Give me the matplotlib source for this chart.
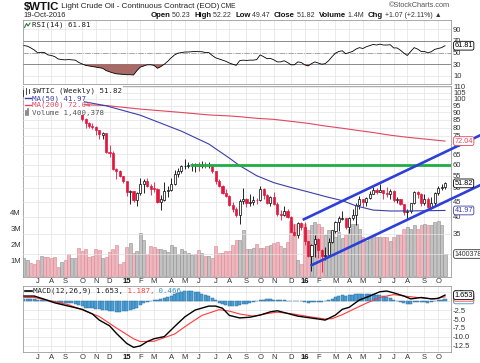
import matplotlib
matplotlib.use("Agg")
import matplotlib.pyplot as plt
import matplotlib.dates as mdates
from matplotlib.lines import Line2D
from matplotlib.patches import Rectangle
from matplotlib.ticker import NullLocator
import numpy as np
import pandas as pd

plt.rcParams["font.family"] = ["Liberation Sans", "DejaVu Sans"]
MONO = ["DejaVu Sans Mono", "DejaVu Sans"]

W, H = 480, 363

# weekly bars, Monday dates
WEEKS = pd.date_range("2014-06-09", "2016-10-17", freq="W-MON")

OPEN = [102.6, 106.9, 107.0, 105.5, 104.1, 100.9, 103.1, 102.1, 97.9, 97.6,
        97.2, 93.6, 96.0, 93.2, 92.2, 92.4, 93.5, 89.7, 85.8, 82.6,
        81.0, 80.5, 78.6, 75.8, 76.5, 66.1, 65.8, 57.8, 57.1, 54.7,
        52.7, 48.4, 48.7, 45.6, 48.2, 51.7, 52.8, 50.8, 49.8, 49.6,
        44.8, 45.7, 48.9, 49.1, 51.6, 55.7, 57.2, 59.1, 59.4, 59.7,
        59.7, 60.3, 59.1, 60.0, 59.6, 59.6, 56.9, 52.7, 50.9, 48.1,
        47.1, 43.9, 42.5, 40.4, 45.2, 46.0, 44.6, 44.7, 45.7, 45.5,
        49.6, 47.3, 44.6, 46.6, 44.3, 40.7, 40.4, 41.7, 40.0, 35.6,
        34.7, 38.1, 37.0, 33.2, 29.4, 32.2, 33.6, 30.9, 29.4, 29.6,
        32.8, 35.9, 38.5, 39.4, 39.5, 36.8, 39.7, 40.4, 43.7, 45.9,
        44.7, 46.2, 47.8, 49.3, 48.6, 49.1, 48.0, 47.6, 49.0, 45.4,
        45.9, 44.2, 41.6, 41.8, 44.5, 48.5, 47.6, 44.4, 45.9, 43.0,
        44.5, 48.2, 49.8, 50.23]
HIGH = [107.7, 107.7, 107.5, 106.5, 104.3, 103.9, 105.0, 102.3, 98.6, 98.3,
        97.3, 96.2, 96.1, 93.9, 95.5, 94.0, 95.0, 90.9, 86.3, 83.8,
        82.6, 80.8, 78.7, 77.3, 76.9, 69.9, 66.6, 58.5, 57.6, 55.0,
        52.7, 49.3, 48.9, 48.5, 54.2, 53.8, 54.0, 51.4, 52.5, 50.0,
        47.4, 52.5, 50.9, 54.2, 57.4, 58.4, 59.9, 62.6, 61.0, 60.7,
        60.5, 61.2, 61.6, 61.3, 61.1, 59.7, 57.0, 53.7, 51.1, 49.5,
        47.2, 45.0, 43.1, 45.9, 50.0, 46.3, 47.7, 47.1, 46.1, 50.9,
        49.9, 47.6, 47.0, 48.4, 45.0, 42.0, 43.5, 42.6, 40.1, 37.9,
        38.3, 38.4, 38.4, 33.2, 32.3, 34.8, 34.0, 31.0, 31.5, 33.8,
        36.0, 38.7, 40.2, 41.9, 39.6, 39.8, 42.4, 44.5, 46.8, 46.0,
        46.7, 49.0, 50.2, 50.0, 51.7, 49.3, 50.5, 49.5, 49.1, 46.6,
        46.0, 44.3, 42.4, 44.6, 48.8, 48.8, 47.9, 47.7, 46.5, 46.6,
        48.3, 50.7, 51.6, 52.22]
LOW = [102.4, 105.6, 104.9, 103.5, 100.3, 98.7, 101.7, 97.1, 96.6, 95.0,
       92.5, 92.9, 92.5, 90.4, 91.4, 90.9, 89.2, 84.5, 79.8, 80.0,
       79.4, 75.8, 73.3, 73.3, 65.7, 63.7, 57.3, 53.6, 54.5, 52.0,
       46.8, 44.2, 45.0, 43.6, 47.4, 48.0, 50.2, 47.5, 48.6, 44.4,
       42.0, 45.3, 46.7, 49.0, 51.1, 54.5, 56.3, 57.8, 58.4, 57.1,
       56.5, 57.1, 58.3, 58.6, 58.3, 56.1, 51.4, 50.2, 47.7, 46.7,
       43.4, 41.4, 39.9, 37.8, 44.2, 43.2, 43.4, 43.7, 44.2, 45.3,
       45.9, 44.2, 43.6, 43.9, 40.3, 38.9, 40.2, 39.6, 35.4, 34.5,
       33.9, 36.1, 32.1, 29.1, 26.2, 29.3, 29.0, 26.05, 28.5, 29.3,
       32.5, 35.3, 35.9, 38.9, 36.4, 35.2, 39.0, 37.6, 42.5, 43.0,
       43.6, 46.0, 47.7, 47.8, 48.3, 46.0, 46.7, 45.8, 44.8, 44.4,
       43.9, 40.6, 39.2, 41.1, 44.3, 46.3, 43.5, 43.8, 42.8, 42.5,
       43.6, 47.5, 49.1, 49.47]
CLOSE = [106.91, 107.26, 105.74, 104.06, 100.83, 103.13, 102.09, 97.88, 97.65, 97.35,
         93.65, 95.96, 93.29, 92.27, 92.41, 93.54, 89.74, 85.82, 82.75, 81.01,
         80.54, 78.65, 75.82, 76.51, 66.15, 65.84, 57.81, 57.13, 54.73, 52.69,
         48.36, 48.69, 45.59, 48.24, 51.69, 52.78, 50.81, 49.76, 49.61, 44.84,
         45.72, 48.87, 49.14, 51.64, 55.74, 57.15, 59.15, 59.39, 59.69, 59.72,
         60.30, 59.13, 59.96, 59.61, 59.63, 56.93, 52.74, 50.89, 48.14, 47.12,
         43.87, 42.50, 40.45, 45.22, 46.05, 44.63, 44.68, 45.70, 45.54, 49.63,
         47.26, 44.60, 46.59, 44.29, 40.74, 40.39, 41.71, 39.97, 35.62, 34.73,
         38.10, 37.04, 33.16, 29.42, 32.19, 33.62, 30.89, 29.44, 29.64, 32.78,
         35.92, 38.50, 39.44, 39.46, 36.79, 39.72, 40.36, 43.73, 45.92, 44.66,
         46.21, 47.75, 49.33, 48.62, 49.07, 47.98, 47.64, 48.99, 45.41, 45.95,
         44.19, 41.60, 41.80, 44.49, 48.52, 47.64, 44.44, 45.88, 43.03, 44.48,
         48.24, 49.81, 50.35, 51.82]
# volume in millions
VOLUME = [1.12, 1.01, 0.84, 0.75, 1.01, 1.27, 1.23, 1.23, 1.12, 1.23,
          0.58, 0.90, 1.01, 1.40, 1.14, 1.14, 1.78, 1.61, 1.74, 1.23,
          1.27, 1.72, 1.66, 1.18, 1.23, 1.50, 1.74, 2.00, 0.80, 0.88,
          1.87, 2.09, 1.46, 1.61, 2.73, 2.30, 1.40, 1.91, 1.87, 1.74,
          1.70, 1.66, 1.53, 2.00, 1.87, 1.40, 1.72, 1.61, 1.48, 1.31,
          1.40, 1.66, 1.48, 1.27, 1.27, 1.14, 1.91, 1.44, 1.44, 1.57,
          1.61, 2.00, 2.26, 2.30, 2.90, 1.70, 1.70, 1.75, 2.05, 1.80,
          1.75, 1.90, 1.95, 2.10, 2.15, 1.90, 1.80, 2.15, 3.50, 3.30,
          1.00, 0.80, 3.30, 2.90, 3.20, 3.40, 3.30, 3.10, 2.60, 2.90,
          2.80, 2.50, 2.80, 2.40, 2.60, 3.00, 3.30, 3.30, 3.00, 2.50,
          2.25, 2.45, 2.60, 2.50, 2.50, 2.50, 2.45, 2.25, 2.50, 2.60,
          2.60, 3.00, 3.10, 3.00, 3.20, 3.00, 3.20, 3.30, 3.20, 3.25,
          3.40, 3.50, 3.20, 1.400378]
RSI = [62, 61, 58, 54.5, 49.5, 50.5, 50, 46, 45, 43,
       39, 38, 37.5, 38, 37.5, 37, 33, 30.5, 28, 27,
       26, 25, 24, 23, 19, 17, 15, 13.5, 13, 12.5,
       12, 12, 11.5, 19, 25, 27, 29, 29, 28, 23,
       26, 30, 35, 41, 46, 49, 50, 51, 51, 51.5,
       52, 51.5, 51.5, 50, 50, 45, 41, 39, 37, 35,
       32, 30, 28, 36, 37, 36.5, 37, 37, 38, 46,
       43, 39.5, 40, 37.5, 34, 34, 36, 33, 29, 29,
       34, 33, 29, 27, 31, 34, 32, 30, 31, 36,
       43, 49, 52, 53, 48, 50, 52, 56, 58.5, 57,
       60, 62, 64, 63, 64.5, 63, 63, 63.5, 58, 58,
       54, 49, 45, 52, 58.5, 56, 52, 52, 49.5, 51.5,
       55.5, 57, 58.5, 61.81]
HIST = [0.6, 0.6, 0.5, 0.5, 0.4, 0.3, 0.2, 0.0, -0.2, -0.3,
        -0.4, -0.4, -0.5, -0.5, -0.6, -0.7, -1.2, -1.5, -1.8, -1.9,
        -2.0, -2.2, -2.3, -2.4, -2.6, -2.8, -2.9, -3.0, -3.0, -2.9,
        -2.8, -2.6, -2.2, -1.8, -1.2, -0.6, -0.2, 0.1, 0.3, 0.4,
        0.6, 0.9, 1.2, 1.5, 1.9, 2.3, 2.6, 2.8, 2.9, 2.8,
        2.6, 2.4, 2.1, 1.8, 1.4, 0.8, 0.2, -0.4, -0.8, -1.1,
        -1.3, -1.4, -1.5, -1.2, -0.9, -0.7, -0.5, -0.3, -0.1, 0.3,
        0.4, 0.5, 0.5, 0.4, 0.3, 0.2, 0.2, 0.1, 0.0, -0.1,
        0.1, 0.0, -0.2, -0.4, -0.3, -0.2, -0.2, -0.2, -0.1, 0.3,
        0.7, 1.1, 1.4, 1.6, 1.5, 1.6, 1.7, 1.9, 2.0, 2.0,
        2.0, 2.0, 1.9, 1.7, 1.6, 1.3, 1.0, 0.8, 0.3, 0.0,
        -0.2, -0.5, -0.8, -0.7, -0.3, -0.2, -0.3, -0.3, -0.4, -0.2,
        0.0, 0.2, 0.3, 0.466]

# smooth lines read at selected weeks (1-based week numbers)
MACD_WK = [1, 4, 7, 10, 14, 18, 21, 23, 26, 28, 31, 33, 35, 37, 39, 42, 45, 48, 51, 55,
           57, 59, 61, 64, 67, 70, 73, 75, 77, 79, 81, 84, 87, 89, 92, 94, 96, 99, 102, 105,
           107, 109, 112, 114, 117, 120, 122, 124]
MACD = [1.4, 1.4, 0.5, -0.5, -1.4, -2.3, -3.6, -5.3, -6.9, -9.0, -11.8, -12.9, -12.5, -11.3,
        -10.5, -9.9, -7.1, -4.4, -2.5, -1.4, -1.4, -2.0, -4.0, -4.7, -4.5, -3.9, -3.0, -2.7,
        -3.2, -3.7, -4.2, -4.6, -5.0, -5.3, -3.9, -2.3, -1.75, 0.3, 1.4, 2.6, 2.8, 2.3, 1.4,
        0.6, 1.0, 0.6, 0.75, 1.653]
SIG_WK = [1, 4, 14, 23, 28, 33, 35, 39, 45, 49, 53, 58, 61, 64, 68, 72, 75, 79, 84, 89,
          91, 94, 97, 101, 105, 109, 113, 117, 121, 124]
SIGNAL = [1.0, 1.0, -1.0, -4.3, -7.5, -10.5, -11.3, -11.2, -9.2, -6.5, -4.0, -2.4, -2.8, -3.6,
          -4.2, -3.5, -3.1, -3.5, -4.3, -5.0, -4.9, -3.8, -2.4, -0.6, 1.0, 1.8, 1.3, 0.9, 0.6, 1.187]
MA_WK = [17, 25, 35, 47, 55, 61, 64, 69, 74, 79, 84, 89, 94, 98, 103, 108, 113, 124]
MA50 = [98.6, 94.8, 88.1, 77.8, 70.4, 63.1, 59.5, 55.0, 52.1, 50.2, 48.5, 46.8, 45.3, 43.5,
        42.1, 41.8, 41.8, 41.97]
MA200 = [95.8, 95.0, 92.4, 90.0, 88.3, 87.6, 87.1, 86.0, 85.3, 84.0, 82.7, 81.0, 79.6, 78.4,
         77.0, 75.4, 74.2, 72.04]

# annotations drawn on the price panel
UPPER_DATES = ["2015-12-31", "2016-12-29"]
UPPER_PRICES = [39.0, 75.5]
LOWER_DATES = ["2016-01-16", "2016-12-29"]
LOWER_PRICES = [27.3, 51.2]
RESIST_START = "2015-05-14"
RESIST_LEVEL = 60

PRICE_TICKS = list(range(30, 115, 5))
PRICE_LABELS = [""] + [str(v) for v in range(35, 115, 5)]  # 30 sits under the volume box
RSI_TICKS = [10, 30, 50, 70, 90]
MACD_TICKS = [2.5, 0, -2.5, -5, -7.5, -10, -12.5]
MACD_LABELS = ["2.5", "", "-2.5", "-5.0", "-7.5", "-10.0", "-12.5"]
VOL_TICKS = [1, 2, 3, 4]
VOL_LABELS = ["1M", "2M", "3M", "4M"]

X = mdates.date2num(WEEKS)
o, h, l, c = map(np.array, (OPEN, HIGH, LOW, CLOSE))
rsi = np.array(RSI)
assert len(X) == len(o) == len(h) == len(l) == len(c) == len(VOLUME) == len(RSI) == len(HIST)

RED = "#e3173e"
GRID = "#e3e3e3"
FRAME = "#9c9c9c"
TXT = "#333333"
XL = X[0] - 2.0
XR = XL + 875.3

# first bar of each month (skip partial first month)
tick_x, tick_lab = [], []
for i in range(1, len(WEEKS)):
    if WEEKS[i].month != WEEKS[i - 1].month:
        tick_x.append(X[i])
        d = WEEKS[i]
        tick_lab.append(d.strftime("%y") if d.month == 1 else d.strftime("%b")[0])

fig = plt.figure(figsize=(4.8, 3.63), dpi=100)
fig.patch.set_facecolor("white")


def rect(left, top, right, bottom):
    return [left / W, 1 - bottom / H, (right - left) / W, (bottom - top) / H]


def style(ax):
    for s in ax.spines.values():
        s.set_color(FRAME)
        s.set_linewidth(0.6)
    ax.set_xlim(XL, XR)
    ax.set_xticks(tick_x)
    ax.tick_params(length=0, labelsize=5.5, colors=TXT, pad=1.5)
    ax.set_axisbelow(True)


def month_labels(ax):
    ax.set_xticklabels(tick_lab)
    for t, s in zip(ax.get_xticklabels(), tick_lab):
        if s.isdigit():
            t.set_fontweight("bold")
            t.set_color("#111111")


def value_box(ax, y, s, color, size=5.3):
    ax.annotate(s, xy=(1, y), xycoords=ax.get_yaxis_transform(), xytext=(2.5, 0),
                textcoords="offset points", ha="left", va="center", fontsize=size,
                color=color, annotation_clip=False, zorder=20,
                bbox=dict(boxstyle="round,pad=0.12,rounding_size=0.25", fc="white",
                          ec=color, lw=0.6))


# ---------------- RSI panel ----------------
ax_rsi = fig.add_axes(rect(23, 20, 451, 84))
style(ax_rsi)
ax_rsi.grid(True, color=GRID, lw=0.5)
ax_rsi.set_ylim(-4, 106)
ax_rsi.set_yticks(RSI_TICKS)
ax_rsi.yaxis.tick_right()
ax_rsi.set_xticklabels([])
ax_rsi.axhline(70, color="#8a8a8a", lw=0.7, zorder=1)
ax_rsi.axhline(30, color="#8a8a8a", lw=0.7, zorder=1)
ax_rsi.axhline(50, color="#9a9a9a", lw=0.6, ls="-.", zorder=1)
ax_rsi.fill_between(X, rsi, 30, where=rsi < 30, interpolate=True, color="#a86a66", lw=0, zorder=2)
ax_rsi.plot(X, rsi, color="black", lw=0.6, zorder=3)
value_box(ax_rsi, RSI[-1], f"{RSI[-1]:.2f}", "black")

# ---------------- price + volume panel ----------------
ax_vol = fig.add_axes(rect(23, 86, 451, 277))
style(ax_vol)
ax_vol.grid(True, axis="x", color=GRID, lw=0.5)
prev = np.r_[o[0], c[:-1]]
up = c >= prev
ax_vol.bar(X, VOLUME, width=6.2, color=np.where(up, "#c2c2c2", "#f0b6be"),
           edgecolor=np.where(up, "#8e8e8e", "#d98592"), lw=0.4, zorder=2)
ax_vol.set_ylim(-0.05, 12.0)
ax_vol.set_yticks(VOL_TICKS)
ax_vol.set_yticklabels(VOL_LABELS)
ax_vol.yaxis.tick_left()
ax_vol.tick_params(labelbottom=False)
value_box(ax_vol, VOLUME[-1], f"{VOLUME[-1] * 1e6:.0f}", "#333333", size=5.0)

ax_px = fig.add_axes(rect(23, 86, 451, 277), label="price")
style(ax_px)
ax_px.patch.set_visible(False)
for s in ax_px.spines.values():
    s.set_visible(False)
ax_px.set_yscale("log")
ax_px.set_ylim(25.0, 110.6)
ax_px.set_yticks(PRICE_TICKS)
ax_px.set_yticklabels(PRICE_LABELS)
ax_px.yaxis.set_minor_locator(NullLocator())
ax_px.yaxis.tick_right()
ax_px.grid(True, axis="y", color=GRID, lw=0.5)
month_labels(ax_px)
ax_px.tick_params(axis="x", pad=1.0)

edge = np.where(up, "black", RED)
face = np.where(c < o, edge, "white")
ax_px.vlines(X, l, h, colors=edge, lw=0.6, zorder=3)
body_lo = np.minimum(o, c)
body_h = np.maximum(np.abs(c - o), 0.08)
ax_px.bar(X, body_h, bottom=body_lo, width=4.3, color=face, edgecolor=edge, lw=0.5, zorder=4)

ma_x = X[np.array(MA_WK) - 1]
ax_px.plot(ma_x, MA200, color="#e2475e", lw=0.8, zorder=5)
ax_px.plot(ma_x, MA50, color="#3b3ea8", lw=0.8, zorder=5)
ax_px.hlines(RESIST_LEVEL, mdates.datestr2num(RESIST_START), XR, color="#1fae45", lw=2.0, zorder=6)
for dates, prices in ((UPPER_DATES, UPPER_PRICES), (LOWER_DATES, LOWER_PRICES)):
    ax_px.plot(mdates.datestr2num(dates), prices, color="#2d3fd8", lw=1.9,
               clip_on=False, zorder=15, solid_capstyle="butt")

value_box(ax_px, MA200[-1], f"{MA200[-1]:.2f}", "#e2475e")
value_box(ax_px, CLOSE[-1], f"{CLOSE[-1]:.2f}", "black")
value_box(ax_px, MA50[-1], f"{MA50[-1]:.2f}", "#3b3ea8")

# ---------------- MACD panel ----------------
ax_macd = fig.add_axes(rect(23, 286, 451, 352))
style(ax_macd)
ax_macd.grid(True, color=GRID, lw=0.5)
ax_macd.set_ylim(-14.2, 4.2)
ax_macd.set_yticks(MACD_TICKS)
ax_macd.set_yticklabels(MACD_LABELS)
ax_macd.yaxis.tick_right()
month_labels(ax_macd)
ax_macd.bar(X, HIST, width=6.2, color="#4d9fd3", edgecolor="#2c6f9e", lw=0.35, zorder=2)
ax_macd.plot(X[np.array(SIG_WK) - 1], SIGNAL, color="#ff3a3a", lw=0.8, zorder=3)
ax_macd.plot(X[np.array(MACD_WK) - 1], MACD, color="black", lw=1.0, zorder=4)
value_box(ax_macd, HIST[-1], f"{HIST[-1]:.3f}", "#3a8fc6")
value_box(ax_macd, SIGNAL[-1], f"{SIGNAL[-1]:.3f}", "#ff3a3a")
value_box(ax_macd, MACD[-1], f"{MACD[-1]:.3f}", "black")

# ---------------- legends and header ----------------
def fig_rect(x0, y0, x1, y1):
    fig.add_artist(Rectangle((x0 / W, 1 - y1 / H), (x1 - x0) / W, (y1 - y0) / H,
                             transform=fig.transFigure, fc="white", ec="none", zorder=2))


def fig_line(xs, ys, color, lw):
    fig.add_artist(Line2D([v / W for v in xs], [1 - v / H for v in ys], color=color,
                          lw=lw, transform=fig.transFigure, zorder=3))


def chain(ax, x, y, parts):
    prev_t = None
    for s, kw in parts:
        if prev_t is None:
            prev_t = ax.annotate(s, xy=(x, H - y), xycoords="figure pixels", ha="left",
                                 va="center", annotation_clip=False, zorder=30, **kw)
        else:
            prev_t = ax.annotate(s, xy=(1, 0.5), xycoords=prev_t, ha="left", va="center",
                                 annotation_clip=False, zorder=30, **kw)
    return prev_t


fig_rect(23.5, 86.5, 123, 94)
fig_rect(23.5, 94, 84, 115.5)

leg = dict(fontsize=5.4, family=MONO)
fig.text(31.5 / W, 1 - 90.8 / H, "$WTIC (Weekly) 51.82", color="#222222", va="center", zorder=4, **leg)
fig.text(32 / W, 1 - 98.3 / H, "MA(50) 41.97", color="#3b3ea8", va="center", zorder=4, **leg)
fig.text(32 / W, 1 - 105.2 / H, "MA(200) 72.04", color="#e2475e", va="center", zorder=4, **leg)
fig.text(31.5 / W, 1 - 112.6 / H, "Volume 1,400,378", color="#555555", va="center", zorder=4, **leg)
fig.text(31.5 / W, 1 - 25.2 / H, "RSI(14) 61.81", color="#222222", va="center", zorder=4, **leg)
fig_line([24.5, 31], [98.3, 98.3], "#3b3ea8", 1.0)
fig_line([24.5, 31], [105.2, 105.2], "#e2475e", 1.0)
fig_line([25, 31.5], [290.8, 290.8], "black", 1.2)
# small icons
fig_line([24.5, 26.5, 28, 30], [27.5, 23.5, 26, 23], "#2d7a3a", 0.8)
fig_line([25.5, 25.5], [88, 93.5], "#222222", 0.6)
fig_line([28.5, 28.5], [88.5, 93], "#222222", 0.6)
fig_line([25.5, 25.5], [111, 115], "#777777", 1.2)
fig_line([28, 28], [109, 115], "#777777", 1.2)

chain(ax_macd, 33, 290.8, [("MACD(12,26,9) 1.653,", dict(color="#222222", **leg)),
                            (" 1.187,", dict(color="#ff3a3a", **leg)),
                            (" 0.466", dict(color="#3a8fc6", **leg))])

chain(ax_rsi, 23.5, 6.8, [("$WTIC", dict(fontsize=8.2, fontweight="bold", color="#111111")),
                          (" Light Crude Oil - Continuous Contract (EOD)", dict(fontsize=5.8, color="#222222")),
                          (" CME", dict(fontsize=4.8, color="#222222"))])
fig.text(23.5 / W, 1 - 15.5 / H, "19-Oct-2016", fontsize=5.5, color="#222222", va="center")
fig.text(450 / W, 1 - 5.5 / H, "\u00a9StockCharts.com", fontsize=5.3, color="#555555",
         va="center", ha="right")

hb = dict(fontsize=5.6, fontweight="bold", color="#111111")
hv = dict(fontsize=5.0, color="#333333")
chain(ax_rsi, 150.5, 15.5, [("Open", hb), (" 50.23  ", hv), ("High", hb), (" 52.22  ", hv),
                            ("Low", hb), (" 49.47  ", hv), ("Close", hb), (" 51.82  ", hv),
                            ("Volume", hb), (" 1.4M  ", hv), ("Chg", hb),
                            (" +1.07 (+2.11%) \u25b2", hv)])

fig.savefig("out.png", dpi=100)
